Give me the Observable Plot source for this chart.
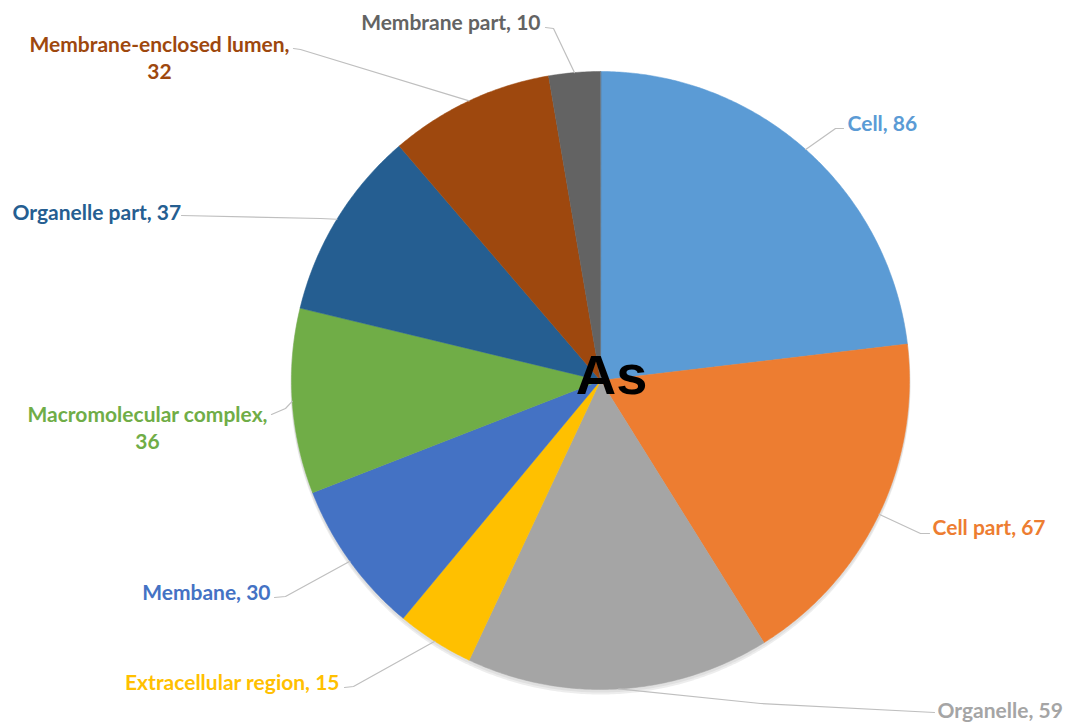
<!DOCTYPE html>
<html>
<head>
<meta charset="utf-8">
<script src="https://cdn.jsdelivr.net/npm/d3@7"></script>
<script src="https://cdn.jsdelivr.net/npm/@observablehq/plot@0.6"></script>
<style>
  html, body { margin: 0; padding: 0; background: #ffffff; }
  #chart { width: 1068px; height: 722px; }
</style>
</head>
<body>
<div id="chart"></div>
<script>
// ---- data ----
const categories = ["Cell", "Cell part", "Organelle", "Extracellular region", "Membane",
  "Macromolecular complex", "Organelle part", "Membrane-enclosed lumen", "Membrane part"];
const values = [86, 67, 59, 15, 30, 36, 37, 32, 10];
const sliceColors = ["#5B9BD5", "#ED7D31", "#A5A5A5", "#FFC000", "#4472C4",
  "#70AD47", "#255E91", "#9E480E", "#636363"];
const centerLabel = "As";

// ---- layout (pixels) ----
const W = 1068, H = 722;
const CX = 600, CY = 380, R = 309;
// label anchor point, text anchor, leader-line elbow and end, line break flag
const labelLayout = [
  {x: 847, y: 122, anchor: "start", elbow: [835, 128], end: [843, 128], wrap: false},
  {x: 932, y: 526, anchor: "start", elbow: [920, 533], end: [929, 533], wrap: false},
  {x: 937, y: 709, anchor: "start", elbow: [760, 703], end: [934, 712], wrap: false},
  {x: 339, y: 681, anchor: "end", elbow: [353, 686], end: [344, 687], wrap: false},
  {x: 270, y: 591, anchor: "end", elbow: [285, 596], end: [274, 597], wrap: false},
  {x: 147, y: 426, anchor: "middle", elbow: [285, 408], end: [271, 414], wrap: true},
  {x: 12, y: 211, anchor: "start", elbow: [320, 218], end: [181, 215], wrap: false},
  {x: 159, y: 56, anchor: "middle", elbow: [300, 49], end: [293, 48], wrap: true},
  {x: 540, y: 21, anchor: "end", elbow: [553, 28], end: [545, 27], wrap: false}
];

// ---- build slices from values ----
const arcs = d3.pie().sort(null).value(d => d)(values);
const pt = (a, r) => [CX + r * Math.sin(a), CY - r * Math.cos(a)];

const slices = arcs.map((a, i) => {
  const ring = [[CX, CY]];
  const n = Math.max(4, Math.ceil((a.endAngle - a.startAngle) / (Math.PI / 360)));
  for (let k = 0; k <= n; k++) ring.push(pt(a.startAngle + (a.endAngle - a.startAngle) * k / n, R));
  ring.push([CX, CY]);
  return {type: "Feature", properties: {name: categories[i], color: sliceColors[i]},
    geometry: {type: "Polygon", coordinates: [ring]}};
});

const discRing = d3.range(0, 721).map(k => pt(k / 720 * 2 * Math.PI, R + 1));
const disc = {type: "Feature", geometry: {type: "Polygon", coordinates: [discRing]}};

const labels = arcs.map((a, i) => {
  const L = labelLayout[i];
  return {
    x: L.x, y: L.y, anchor: L.anchor, color: sliceColors[i],
    text: L.wrap ? `${categories[i]},\n${values[i]}` : `${categories[i]}, ${values[i]}`
  };
});

const leaders = [];
arcs.forEach((a, i) => {
  const L = labelLayout[i];
  const mid = (a.startAngle + a.endAngle) / 2;
  const p0 = pt(mid, R);
  [p0, L.elbow, L.end].forEach((p, k) => leaders.push({id: i, order: k, x: p[0], y: p[1]}));
});

const frame = {type: "Polygon", coordinates: [[[0, 0], [W, 0], [W, H], [0, H], [0, 0]]]};

const chart = Plot.plot({
  width: W,
  height: H,
  margin: 0,
  projection: {type: "identity", domain: frame},
  style: {background: "#ffffff"},
  marks: [
    Plot.geo([disc], {fill: "#000", fillOpacity: 0.07, dy: 4}),
    Plot.geo([disc], {fill: "#000", fillOpacity: 0.05, dy: 2}),
    Plot.geo(slices, {fill: d => d.properties.color, stroke: d => d.properties.color, strokeWidth: 0.5}),
    Plot.line(leaders, {x: "x", y: "y", z: "id", stroke: "#bfbfbf", strokeWidth: 1.2}),
    ...["start", "middle", "end"].map(anc =>
      Plot.text(labels.filter(d => d.anchor === anc), {
        x: "x", y: "y", text: "text", fill: "color",
        textAnchor: anc, lineAnchor: "middle", lineHeight: 1.3,
        fontFamily: "Lato", fontWeight: 700, fontSize: 21
      })
    ),
    Plot.text([{x: CX, y: CY}], {
      x: "x", y: "y", text: () => centerLabel, dx: 11, dy: -4,
      fontFamily: "Liberation Sans", fontWeight: 700, fontSize: 56, fill: "#000",
      lineAnchor: "middle"
    })
  ]
});

document.getElementById("chart").appendChild(chart);
</script>
</body>
</html>
